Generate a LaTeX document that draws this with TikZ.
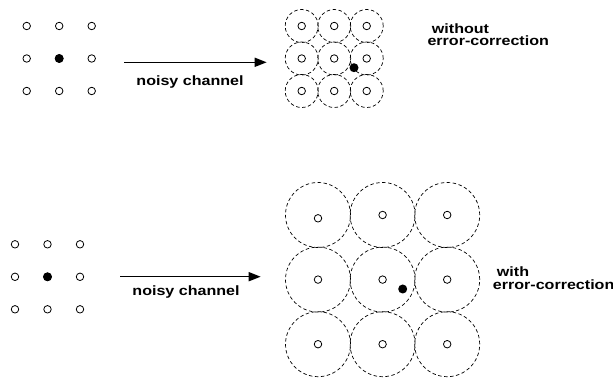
\documentclass[tikz,border=0pt]{standalone}
\usepackage{fontspec}
\setmainfont{Liberation Sans}
\usetikzlibrary{arrows.meta}

\def\dx{32.5}
\def\Dx{64.6}

\begin{document}
\begin{tikzpicture}[x=1pt,y=-1pt]
  \tikzset{point/.style={circle,draw,line width=.8pt,inner sep=0pt,minimum size=7.5pt},
    hit/.style={circle,fill=black,inner sep=0pt,minimum size=9pt},
    zone/.style={circle,draw,dash pattern=on 3.5pt off 2.5pt,line width=.7pt,inner sep=0pt},
    channel/.style={line width=1.5pt,-{Triangle[length=12pt,width=9pt]}},
    tag/.style={font=\bfseries\fontsize{13.5}{11.7}\selectfont,xscale=1.19,inner sep=0pt}}
  \useasboundingbox (0,0) rectangle (613,379);

  % without error-correction
  \foreach \i in {0,1,2} \foreach \j in {0,1,2} {
    \node[point] (a\i\j) at (26.7+\i*\dx,26+\j*\dx) {};
    \node[zone,minimum size=33pt] (b\i\j) at (301.7+\i*\dx,26+\j*\dx) {};
    \node[point] at (b\i\j) {};
  }
  \node[hit] (sent1) at (a11) {};
  \node[hit] (got1) at (354,67.7) {};
  \coordinate (in1) at (124,62.3);
  \coordinate (out1) at (266.7,62.3);
  \draw[channel] (in1) -- (out1);
  \node[tag,anchor=base] (noise1) at (190,86) {noisy channel};
  \node[tag,anchor=base west] (without) at (431.7,34) {without};
  \node[tag,anchor=base west] (ec1) at (427.3,46) {error-correction};

  % with error-correction
  \foreach \i in {0,1,2} \foreach \j in {0,1,2} {
    \pgfmathsetmacro\off{(\i==0)*(\j==0)*3.3}
    \node[point] (c\i\j) at (15+\i*\dx,244.3+\j*\dx) {};
    \node[zone,minimum size=65pt] (d\i\j) at (318+\i*\Dx,215+\j*\Dx) {};
    \node[point] at ([yshift=-\off pt]d\i\j) {};
  }
  \node[hit] (sent2) at (c11) {};
  \node[hit] (got2) at (402.7,289) {};
  \coordinate (in2) at (120,276.7);
  \coordinate (out2) at (260.7,276.7);
  \draw[channel] (in2) -- (out2);
  \node[tag,anchor=base] (noise2) at (186,296) {noisy channel};
  \node[tag,anchor=base west] (with) at (496.7,277) {with};
  \node[tag,anchor=base west] (ec2) at (492.7,290) {error-correction};
\end{tikzpicture}
\end{document}
